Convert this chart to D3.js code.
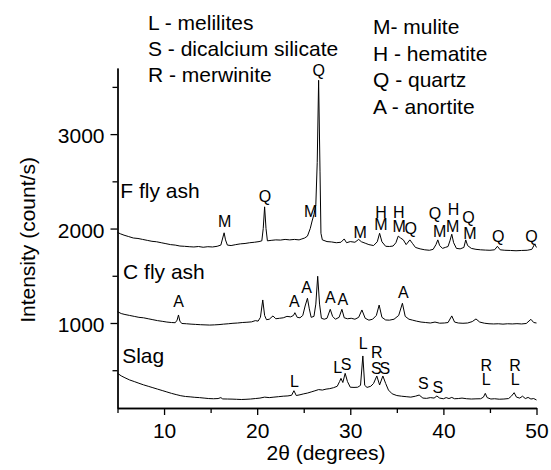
<!DOCTYPE html>
<html>
<head>
<meta charset="utf-8">
<script src="https://cdnjs.cloudflare.com/ajax/libs/d3/7.8.5/d3.min.js"></script>
<style>
  body { margin: 0; background: #fff; }
  svg { font-family: "Liberation Sans", Arial, sans-serif; }
  .trace { fill: none; stroke: #000; stroke-width: 1; }
</style>
</head>
<body>
<script>
var width = 551;
var height = 470;

// axis setup
var xMajor = [10, 20, 30, 40, 50];
var xMinor = [5, 15, 25, 35, 45];
var yMajor = [1000, 2000, 3000];
var yMinor = [500, 1500, 2500, 3500];

// [2theta, counts/s]
var fFlyAsh = [[5.0,1960],[5.3,1945],[5.7,1930],[6.2,1915],[6.7,1900],[7.2,1895],[7.7,1885],[8.2,1875],[8.7,1865],[9.2,1860],[9.7,1850],[10.2,1840],[10.7,1830],[11.2,1825],[11.7,1815],[12.2,1812],[12.7,1808],[13.2,1805],[13.7,1810],[14.2,1802],[14.7,1808],[15.2,1805],[15.7,1812],[16.1,1825],[16.3,1900],[16.45,1955],[16.6,1880],[16.8,1825],[17.2,1820],[17.7,1830],[18.2,1838],[18.7,1842],[19.2,1850],[19.7,1855],[20.2,1862],[20.5,1870],[20.65,2000],[20.8,2230],[20.95,2000],[21.1,1870],[21.5,1875],[22.0,1880],[22.5,1878],[23.0,1885],[23.5,1880],[24.0,1885],[24.5,1880],[24.8,1890],[25.1,1900],[25.4,1920],[25.7,2000],[25.9,2080],[26.1,2150],[26.3,2250],[26.45,2700],[26.6,3570],[26.75,2600],[26.85,1950],[27.0,1880],[27.5,1862],[28.0,1858],[28.5,1850],[29.0,1855],[29.35,1890],[29.6,1850],[30.0,1862],[30.5,1855],[30.9,1885],[31.2,1860],[31.6,1845],[32.0,1830],[32.5,1820],[32.9,1860],[33.15,1950],[33.4,1860],[33.8,1812],[34.2,1810],[34.6,1815],[34.9,1850],[35.15,1920],[35.4,1900],[35.7,1880],[36.0,1830],[36.4,1880],[36.7,1840],[37.0,1800],[37.5,1785],[38.0,1775],[38.5,1770],[38.9,1780],[39.2,1830],[39.4,1880],[39.6,1820],[39.9,1790],[40.2,1800],[40.5,1810],[40.7,1870],[40.9,1940],[41.1,1850],[41.4,1790],[41.8,1785],[42.2,1800],[42.4,1880],[42.6,1820],[43.0,1790],[43.5,1780],[44.0,1775],[44.5,1772],[45.0,1770],[45.5,1775],[45.8,1812],[46.1,1775],[46.6,1770],[47.2,1768],[47.8,1765],[48.4,1768],[49.0,1770],[49.5,1780],[49.8,1835],[50.0,1800]];

var cFlyAsh = [[5.0,1120],[5.4,1100],[5.8,1090],[6.3,1080],[6.8,1070],[7.3,1060],[7.8,1055],[8.3,1045],[8.8,1035],[9.3,1025],[9.8,1018],[10.3,1010],[10.8,1005],[11.2,1003],[11.4,1030],[11.55,1085],[11.7,1020],[11.9,995],[12.4,992],[12.9,988],[13.4,985],[13.9,982],[14.4,980],[14.9,978],[15.4,980],[15.9,983],[16.4,988],[16.9,992],[17.4,997],[17.9,1000],[18.4,1005],[18.9,1008],[19.4,1012],[19.8,1025],[20.1,1020],[20.35,1060],[20.6,1244],[20.8,1080],[21.0,1035],[21.3,1040],[21.7,1075],[22.0,1045],[22.4,1050],[22.8,1055],[23.2,1070],[23.6,1065],[23.9,1080],[24.05,1109],[24.3,1060],[24.6,1055],[24.9,1080],[25.15,1180],[25.4,1262],[25.6,1150],[25.8,1060],[26.1,1070],[26.3,1200],[26.5,1495],[26.7,1200],[26.9,1050],[27.2,1040],[27.5,1050],[27.85,1145],[28.1,1070],[28.4,1040],[28.8,1060],[29.1,1145],[29.35,1055],[29.7,1045],[30.1,1050],[30.5,1040],[30.9,1060],[31.25,1138],[31.6,1050],[32.0,1030],[32.4,1040],[32.8,1080],[33.1,1190],[33.4,1060],[33.8,1032],[34.2,1030],[34.7,1040],[35.2,1080],[35.6,1209],[35.9,1070],[36.3,1040],[36.7,1030],[37.1,1020],[37.6,1010],[38.1,1005],[38.6,1000],[39.1,1010],[39.6,998],[40.1,1000],[40.5,1005],[40.9,1075],[41.2,1010],[41.6,1000],[42.1,997],[42.6,1000],[43.1,1015],[43.5,1043],[43.9,1010],[44.4,998],[44.9,992],[45.4,990],[45.9,992],[46.4,988],[46.9,992],[47.4,990],[47.9,993],[48.4,990],[48.9,995],[49.4,1039],[49.7,1005],[50.0,1000]];

var slag = [[5.0,467],[5.4,440],[5.8,420],[6.3,397],[6.8,380],[7.3,362],[7.8,345],[8.3,330],[8.8,315],[9.3,300],[9.8,285],[10.3,270],[10.8,255],[11.3,242],[11.8,230],[12.3,222],[12.8,218],[13.3,213],[13.8,210],[14.3,205],[14.8,200],[15.3,198],[15.8,200],[16.1,210],[16.3,196],[16.8,195],[17.3,194],[17.8,192],[18.3,190],[18.8,192],[19.3,195],[19.8,200],[20.3,205],[20.8,215],[21.3,210],[21.8,215],[22.3,220],[22.8,225],[23.3,228],[23.7,235],[23.95,283],[24.2,232],[24.6,240],[25.0,250],[25.4,258],[25.8,270],[26.2,282],[26.6,295],[27.0,290],[27.4,300],[27.8,305],[28.2,315],[28.6,330],[28.85,380],[29.0,414],[29.2,370],[29.45,467],[29.7,380],[30.0,320],[30.4,318],[30.8,320],[31.1,340],[31.35,651],[31.55,340],[31.8,318],[32.2,330],[32.5,360],[32.85,439],[33.15,344],[33.5,439],[33.8,360],[34.1,290],[34.5,250],[35.0,232],[35.5,225],[36.0,220],[36.5,215],[37.0,225],[37.4,237],[37.8,205],[38.2,202],[38.6,210],[39.0,205],[39.3,227],[39.6,205],[40.0,198],[40.3,210],[40.6,200],[40.9,212],[41.2,198],[41.6,200],[42.0,205],[42.5,198],[43.0,195],[43.5,197],[44.0,198],[44.3,215],[44.5,255],[44.7,210],[45.1,195],[45.5,198],[46.0,193],[46.5,195],[47.0,200],[47.3,225],[47.6,262],[47.85,215],[48.2,205],[48.5,225],[48.8,200],[49.1,212],[49.4,195],[49.7,200],[50.0,185]];

// sample names [text, 2theta, counts]
var sampleNames = [['F fly ash', 5.3, 2324], ['C fly ash', 5.6, 1466], ['Slag', 5.5, 577]];

// phase marks over the peaks [letter, 2theta, counts]
var peakLabels = [
  ['M',16.5,2020],['Q',20.85,2285],['M',25.75,2126],['Q',26.6,3617],['M',31.05,1897],
  ['H',33.3,2112],['M',33.3,1982],['H',35.2,2112],['M',35.25,1966],['Q',36.5,1940],
  ['Q',39.1,2097],['M',39.6,1908],['H',41.1,2146],['M',41.0,1966],['Q',42.7,2056],['M',42.85,1887],
  ['Q',45.9,1862],['Q',49.45,1862],
  ['A',11.55,1173],['A',24.0,1173],['A',25.3,1315],['A',27.85,1209],['A',29.2,1191],['A',35.7,1262],
  ['L',24.0,326],['L',28.65,467],['S',29.55,502],['L',31.4,722],['R',32.85,630],['S',32.8,458],
  ['S',33.7,458],['S',37.85,298],['S',39.4,262],['R',44.6,487],['L',44.6,342],['R',47.7,487],['L',47.7,342]
];

var legendLeft = ['L - melilites', 'S - dicalcium silicate', 'R - merwinite'];
var legendRight = ['M- mulite', 'H - hematite', 'Q - quartz', 'A - anortite'];

var svg = d3.select('body').append('svg')
  .attr('width', width)
  .attr('height', height);

var x = d3.scaleLinear().domain([5, 50]).range([117.5, 536.5]);
var y = d3.scaleLinear().domain([100, 3700]).range([408, 68]);

var line = d3.line()
  .x(function (d) { return x(d[0]); })
  .y(function (d) { return y(d[1]); });

[fFlyAsh, cFlyAsh, slag].forEach(function (series) {
  svg.append('path')
    .datum(series)
    .attr('class', 'trace')
    .attr('d', line);
});

// axes
var xAxis = svg.append('g')
  .attr('transform', 'translate(0,' + y.range()[0] + ')')
  .call(d3.axisBottom(x).tickValues(xMajor).tickFormat(d3.format('d')).tickSize(7).tickPadding(8).tickSizeOuter(0));
var xMinorAxis = svg.append('g')
  .attr('transform', 'translate(0,' + y.range()[0] + ')')
  .call(d3.axisBottom(x).tickValues(xMinor).tickSize(5).tickFormat('').tickSizeOuter(0));

var yAxis = svg.append('g')
  .attr('transform', 'translate(' + x.range()[0] + ',0)')
  .call(d3.axisLeft(y).tickValues(yMajor).tickFormat(d3.format('d')).tickSize(7).tickPadding(6).tickSizeOuter(0));
var yMinorAxis = svg.append('g')
  .attr('transform', 'translate(' + x.range()[0] + ',0)')
  .call(d3.axisLeft(y).tickValues(yMinor).tickSize(5).tickFormat('').tickSizeOuter(0));

svg.selectAll('.domain, .tick line').attr('stroke', '#000').attr('stroke-width', 1.3);
svg.selectAll('.tick text')
  .attr('font-size', 21)
  .attr('font-family', '"Liberation Sans", Arial, sans-serif')
  .attr('fill', '#000');
yAxis.selectAll('.tick text').attr('dy', '0.42em');

svg.append('text')
  .attr('x', 326)
  .attr('y', 460)
  .attr('text-anchor', 'middle')
  .attr('font-size', 21)
  .text('2\u03b8 (degrees)');

svg.append('text')
  .attr('transform', 'translate(35,240) rotate(-90)')
  .attr('text-anchor', 'middle')
  .attr('font-size', 21)
  .text('Intensity (count/s)');

svg.selectAll('.sample')
  .data(sampleNames)
  .enter().append('text')
  .attr('class', 'sample')
  .attr('x', function (d) { return x(d[1]); })
  .attr('y', function (d) { return y(d[2]); })
  .attr('font-size', 21)
  .text(function (d) { return d[0]; });

svg.selectAll('.peak')
  .data(peakLabels)
  .enter().append('text')
  .attr('class', 'peak')
  .attr('x', function (d) { return x(d[1]); })
  .attr('y', function (d) { return y(d[2]); })
  .attr('text-anchor', 'middle')
  .attr('font-size', 16)
  .text(function (d) { return d[0]; });

svg.selectAll('.legL')
  .data(legendLeft)
  .enter().append('text')
  .attr('class', 'legL')
  .attr('x', 148)
  .attr('y', function (d, i) { return 30 + i * 26; })
  .attr('font-size', 21)
  .text(function (d) { return d; });

svg.selectAll('.legR')
  .data(legendRight)
  .enter().append('text')
  .attr('class', 'legR')
  .attr('x', 373)
  .attr('y', function (d, i) { return 34 + i * 26.5; })
  .attr('font-size', 21)
  .text(function (d) { return d; });
</script>
</body>
</html>
